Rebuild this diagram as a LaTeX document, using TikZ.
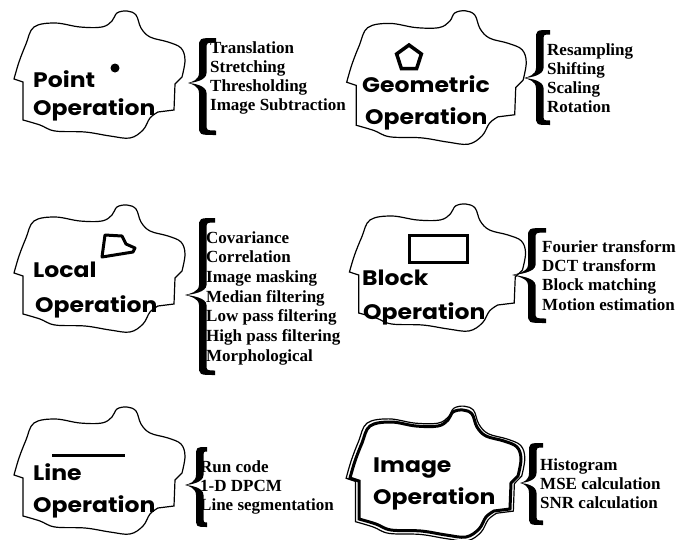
\documentclass[tikz,border=0pt]{standalone}
\usepackage{fontspec}
\setmainfont{Liberation Serif}
\newfontfamily\blobfont[FakeStretch=1.12]{Poppins}
\usetikzlibrary{shapes.geometric}

\tikzset{
  % hand-drawn cloud outline, centred on the pic origin
  pics/blob/.style={code={
    \draw (-77,45) -- (-77,7) -- (-86,4)
      -- plot[smooth, tension=0.6] coordinates {(-86,4) (-81,-13) (-74,-31) (-66,-48)
           (-45,-52) (-20,-48) (2,-48) (12,-54) (17,-62) (27,-64) (36,-60) (41,-47)
           (50,-38) (68,-33) (81,-27) (85,-15) (82,2)}
      -- (75,9) -- (74,35) -- (58,37)
      -- plot[smooth, tension=0.6] coordinates {(58,37) (50,43) (43,55) (30,63)
           (10,61) (-15,57) (-45,56) (-60,50) (-77,45)}
      -- cycle;
  }},
  % filled curly brace: #1 stem offset, #2 rise, #3 drop, #4 hook reach
  pics/bigbrace/.style n args={4}{code={
    \fill[line join=round] (#4,-#2) .. controls (#1-4,-#2) .. (#1-4,-#2+10)
      -- (#1-4,-10) .. controls (#1-4,-3) and (4,-1) .. (0,0)
      .. controls (4,1) and (#1-4,3) .. (#1-4,10)
      -- (#1-4,#3-10) .. controls (#1-4,#3) .. (#4,#3)
      -- (#4,#3-4.5) .. controls (#1+3.5,#3-4.5) .. (#1+3.5,#3-11)
      -- (#1+3.5,10) .. controls (#1+3.5,3) and (7,0.4) .. (0,0)
      .. controls (7,-0.4) and (#1+3.5,-3) .. (#1+3.5,-10)
      -- (#1+3.5,-#2+11) .. controls (#1+3.5,-#2+4.5) .. (#4,-#2+4.5) -- cycle;
  }},
  outline/.style={line width=1.2pt},
  lbl/.style={anchor=base west, inner sep=0pt, font=\blobfont\bfseries\fontsize{21}{21}\selectfont},
  item/.style={anchor=base west, inner sep=0pt, font=\bfseries\fontsize{17}{19}\selectfont},
  iconline/.style={line width=3.5pt}
}

\begin{document}
\begin{tikzpicture}[x=1pt, y=-1pt]
\useasboundingbox[fill=white] (0,0) rectangle (681,539);

% ---------- outlines ----------
\pic[outline] at (100,75) {blob};
\pic[outline, xscale=1.05, yscale=1.05] at (437,78) {blob};
\pic[outline] at (100,269) {blob};
\pic[outline, xscale=1.03] at (438,268) {blob};
\pic[outline] at (100,471) {blob};
\pic[line width=3pt] at (436,474) {blob};
\pic[line width=1.2pt, xscale=1.045, yscale=1.06] at (436,474) {blob};

% ---------- operation names ----------
\node[lbl] (pt)  at (33,87)   {Point};
\node[lbl] (op1) at (33,115)  {Operation};
\node[lbl] (geo) at (362,92)  {Geometric};
\node[lbl] (op2) at (365,124) {Operation};
\node[lbl] (loc) at (33,277)  {Local};
\node[lbl] (op3) at (35,312)  {Operation};
\node[lbl] (blk) at (362,285) {Block};
\node[lbl] (op4) at (363,319) {Operation};
\node[lbl] (lin) at (33,480)  {Line};
\node[lbl] (op5) at (33,512)  {Operation};
\node[lbl] (img) at (373,472) {Image};
\node[lbl] (op6) at (373,504) {Operation};

% ---------- icons ----------
\node[circle, fill, minimum size=9pt, inner sep=0pt] (dot) at (115,68) {};
\node[draw, iconline, regular polygon, regular polygon sides=5, minimum size=26pt, inner sep=0pt] (pent) at (409,58) {};
\draw[line width=3pt, line join=round] (105,235) -- (122,236) -- (126,244) -- (135,248) -- (133,252) -- (102,257) -- cycle;
\node[draw, line width=3pt, minimum width=58pt, minimum height=27pt, inner sep=0pt] (rect) at (438,249) {};
\coordinate (segA) at (52,455);
\coordinate (segB) at (125,455);
\draw[line width=3pt] (segA) -- (segB);

% ---------- braces ----------
\pic at (188,83)  {bigbrace={15}{45}{52}{28}};
\pic at (524,78)  {bigbrace={16}{48}{47}{26}};
\pic at (185,295) {bigbrace={18}{77}{80}{30}};
\pic at (512,275) {bigbrace={20}{47}{48}{34}};
\pic at (185,485) {bigbrace={15}{38}{42}{22}};
\pic at (520,483) {bigbrace={13}{40}{42}{23}};

% ---------- lists ----------
\foreach \t [count=\i from 0] in {Translation, Stretching, Thresholding, Image Subtraction}
  \node[item] (a\i) at (210,{53+19*\i}) {\t};
\foreach \t [count=\i from 0] in {Resampling, Shifting, Scaling, Rotation}
  \node[item] (b\i) at (547,{55+19*\i}) {\t};
\foreach \t [count=\i from 0] in {Covariance, Correlation, Image masking, Median filtering, Low pass filtering, High pass filtering, Morphological}
  \node[item] (c\i) at (206,{243+19.7*\i}) {\t};
\foreach \t [count=\i from 0] in {Fourier transform, DCT transform, Block matching, Motion estimation}
  \node[item] (d\i) at (542,{252+19.4*\i}) {\t};
\foreach \t [count=\i from 0] in {Run code, 1-D DPCM, Line segmentation}
  \node[item] (e\i) at (200,{472+19*\i}) {\t};
\foreach \t [count=\i from 0] in {Histogram, MSE calculation, SNR calculation}
  \node[item] (f\i) at (540,{470+19*\i}) {\t};
\end{tikzpicture}
\end{document}
